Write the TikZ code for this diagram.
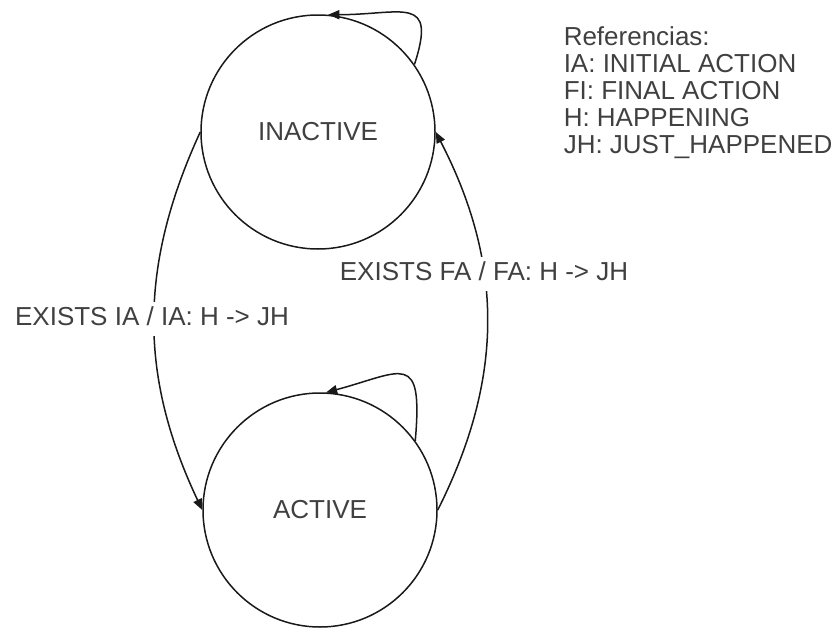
\documentclass[tikz,border=0pt]{standalone}
\usepackage{fontspec}
\setmainfont{Liberation Sans}
\usetikzlibrary{arrows.meta}

\begin{document}
\begin{tikzpicture}[x=1pt,y=1pt,line width=1.5pt,
		every node/.style={text=black!75,font=\fontsize{26}{27}\selectfont},
		state/.style={draw=black!90,circle,minimum size=234pt,inner sep=0pt},
		trans/.style={draw=black!90,-{Triangle[length=11pt,width=9pt]}},
		lbl/.style={fill=white,anchor=base,inner sep=3pt,text height=20pt,text depth=8pt}]
	\useasboundingbox (0,0) rectangle (839,-629);
	\node[state] (inactive) at (318,-132) {INACTIVE};
	\node[state] (active) at (320,-510) {ACTIVE};
	\draw[trans] (inactive.west) to[bend right=25] (active.west);
	\draw[trans] (active.east) to[bend right=27] (inactive.east);
	\draw[trans] (inactive.35) to[out=72,in=0,looseness=1.9] (inactive.85);
	\draw[trans] (active.36) to[out=85,in=15,out looseness=2.3,in looseness=2] (active.87);
	\node[lbl] (lblia) at (152,-325) {EXISTS IA / IA: H -> JH};
	\node[lbl] (lblfa) at (484,-280) {EXISTS FA / FA: H -> JH};
	\node[anchor=north west,align=left,inner sep=0pt] (refs) at (563,-26) {Referencias:\\IA: INITIAL ACTION\\FI: FINAL ACTION\\H: HAPPENING\\JH: JUST\_HAPPENED};
\end{tikzpicture}
\end{document}
